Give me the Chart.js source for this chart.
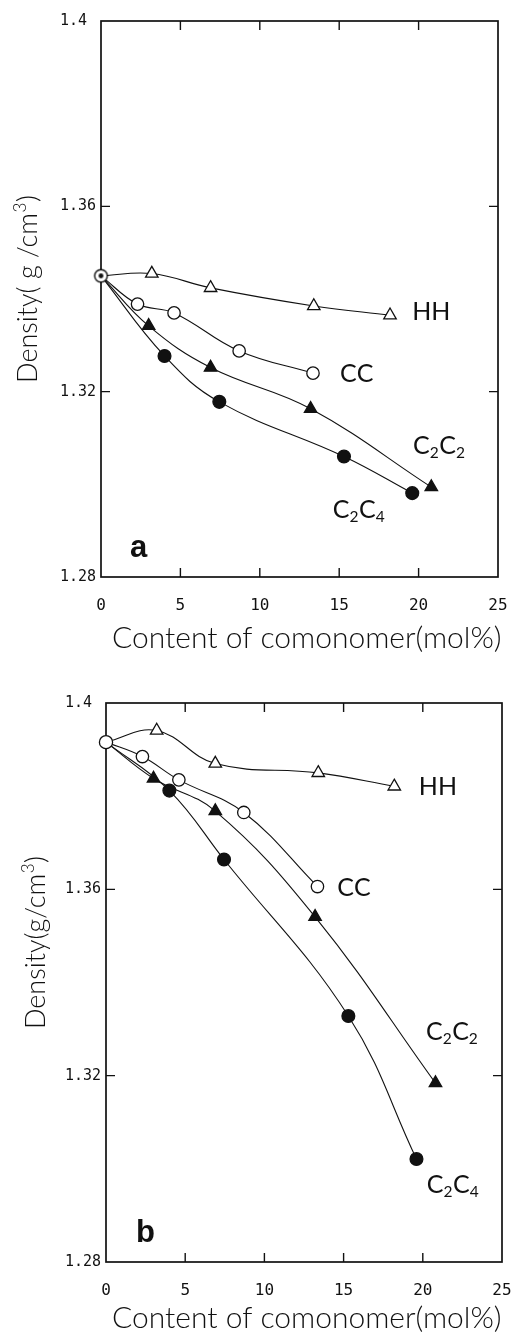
<!DOCTYPE html>
<html>
<head>
<meta charset="utf-8">
<script src="https://cdn.jsdelivr.net/npm/chart.js@4.4.1/dist/chart.umd.min.js"></script>
<style>
  html, body { margin: 0; padding: 0; background: #fff; width: 513px; height: 1334px; overflow: hidden; }
  canvas { position: absolute; left: 0; }
  #panelA { top: 0; }
  #panelB { top: 660px; }
</style>
</head>
<body>
<canvas id="panelA" width="513" height="660"></canvas>
<canvas id="panelB" width="513" height="674"></canvas>
<script>
// Comonomer content (mol%) of each copolymer series
const contentHH   = [0, 3.2, 6.9, 13.4, 18.2];
const contentCC   = [0, 2.3, 4.6, 8.7, 13.35];
const contentC2C2 = [0, 3.0, 6.9, 13.2, 20.8];
const contentC2C4 = [0, 4.0, 7.45, 15.3, 19.6];

// Density (g/cm3), panel a
const densityA_HH   = [1.3450, 1.3455, 1.3424, 1.3385, 1.3365];
const densityA_CC   = [1.3450, 1.3389, 1.3370, 1.3288, 1.3240];
const densityA_C2C2 = [1.3450, 1.3342, 1.3252, 1.3163, 1.2994];
const densityA_C2C4 = [1.3450, 1.3277, 1.3178, 1.3060, 1.2981];

// Density (g/cm3), panel b
const densityB_HH   = [1.3916, 1.3941, 1.3870, 1.3850, 1.3821];
const densityB_CC   = [1.3916, 1.3885, 1.3835, 1.3765, 1.3606];
const densityB_C2C2 = [1.3916, 1.3838, 1.3768, 1.3541, 1.3184];
const densityB_C2C4 = [1.3916, 1.3812, 1.3664, 1.3328, 1.3021];

// Axis ticks
const xTickValues = [0, 5, 10, 15, 20, 25];
const yTickValues = [1.28, 1.32, 1.36, 1.40];
const yTickLabels = ['1.28', '1.32', '1.36', '1.4'];

// Series names (digits are set as subscripts)
const seriesNames = ['HH', 'CC', 'C2C2', 'C2C4'];

const INK = '#111';
const TICK_FONT = "'DejaVu Sans Mono', 'Liberation Mono', monospace";
const TEXT_FONT = "Lato, 'Open Sans', sans-serif";

// "circle with a dot" marker used for the shared origin point of panel a
function dottedCircle() {
  const c = document.createElement('canvas');
  c.width = 17; c.height = 17;
  const g = c.getContext('2d');
  g.beginPath(); g.arc(8.5, 8.5, 6.3, 0, Math.PI * 2);
  g.fillStyle = '#fff'; g.fill();
  g.lineWidth = 1.4; g.strokeStyle = INK; g.stroke();
  g.beginPath(); g.arc(8.5, 8.5, 2.4, 0, Math.PI * 2);
  g.fillStyle = INK; g.fill();
  return c;
}

function points(xs, ys) {
  return xs.map((x, i) => ({ x: x, y: ys[i] }));
}

// Chemical-style label: digits drawn as subscripts
function drawChem(ctx, text, x, y, size) {
  let cx = x;
  for (const ch of text) {
    const sub = /[0-9]/.test(ch);
    const s = sub ? size * 0.62 : size;
    ctx.font = `${s}px ${TEXT_FONT}`;
    ctx.fillText(ch, cx, sub ? y + size * 0.17 : y);
    cx += ctx.measureText(ch).width + (sub ? 0.5 : 0);
  }
}

// Boxed frame with inward tick marks on all four sides
const framePlugin = {
  id: 'frame',
  beforeDatasetsDraw(chart) {
    const { ctx, chartArea: a, scales } = chart;
    ctx.save();
    ctx.strokeStyle = INK;
    ctx.lineWidth = 1.7;
    ctx.strokeRect(a.left, a.top, a.right - a.left, a.bottom - a.top);
    const len = 9;
    ctx.lineWidth = 1.4;
    ctx.beginPath();
    xTickValues.slice(1, -1).forEach(v => {
      const px = scales.x.getPixelForValue(v);
      ctx.moveTo(px, a.top); ctx.lineTo(px, a.top + len);
      ctx.moveTo(px, a.bottom); ctx.lineTo(px, a.bottom - len);
    });
    yTickValues.slice(1, -1).forEach(v => {
      const py = scales.y.getPixelForValue(v);
      ctx.moveTo(a.left, py); ctx.lineTo(a.left + len, py);
      ctx.moveTo(a.right, py); ctx.lineTo(a.right - len, py);
    });
    ctx.stroke();
    ctx.restore();
  }
};

// Series names, panel letter and axis titles
const captionPlugin = {
  id: 'captions',
  afterDraw(chart, args, opts) {
    const { ctx, chartArea: a, scales } = chart;
    ctx.save();
    ctx.fillStyle = INK;
    ctx.textBaseline = 'alphabetic';
    ctx.textAlign = 'left';
    seriesNames.forEach((name, i) => {
      const px = scales.x.getPixelForValue(opts.nameAt[i][0]);
      const py = scales.y.getPixelForValue(opts.nameAt[i][1]);
      drawChem(ctx, name, px, py, 25);
    });
    ctx.font = `bold 31px 'Liberation Sans', Arial, sans-serif`;
    ctx.fillText(opts.letter,
      scales.x.getPixelForValue(opts.letterAt[0]),
      scales.y.getPixelForValue(opts.letterAt[1]));

    // x-axis title
    ctx.font = `300 30px ${TEXT_FONT}`;
    ctx.fillText('Content of comonomer(mol%)', a.left + opts.xTitleDx, a.bottom + opts.xTitleDy);

    // y-axis title, rotated, with a raised "3"
    ctx.translate(opts.yTitleX, (a.top + a.bottom) / 2 + opts.yTitleDy);
    ctx.rotate(-Math.PI / 2);
    const parts = opts.yTitle;
    const big = `300 27px ${TEXT_FONT}`, small = `300 17px ${TEXT_FONT}`;
    ctx.font = big;
    const w0 = ctx.measureText(parts[0]).width, w2 = ctx.measureText(parts[2]).width;
    ctx.font = small;
    const w1 = ctx.measureText(parts[1]).width;
    let sx = -(w0 + w1 + w2 + 1) / 2;
    ctx.textAlign = 'left';
    ctx.font = big;
    ctx.fillText(parts[0], sx, 0);
    sx += w0;
    ctx.font = small;
    ctx.fillText(parts[1], sx + 0.5, -11);
    sx += w1 + 1;
    ctx.font = big;
    ctx.fillText(parts[2], sx, 0);
    ctx.restore();
  }
};

function buildPanel(cfg) {
  const origin = cfg.originStyle;
  const series = [
    { key: 'CC',   xs: contentCC,   ys: cfg.dens[1], style: 'circle',   fill: '#fff', r: 6.2, order: 0, first: origin },
    { key: 'C2C4', xs: contentC2C4, ys: cfg.dens[3], style: 'circle',   fill: INK,    r: 6.4, order: 1, first: null },
    { key: 'C2C2', xs: contentC2C2, ys: cfg.dens[2], style: 'triangle', fill: INK,    r: 7.2, order: 2, first: null },
    { key: 'HH',   xs: contentHH,   ys: cfg.dens[0], style: 'triangle', fill: '#fff', r: 7.2, order: 3, first: null }
  ];
  const datasets = series.map(s => ({
    label: s.key,
    data: points(s.xs, s.ys),
    showLine: true,
    tension: 0.4,
    borderColor: INK,
    borderWidth: 1.1,
    order: s.order,
    clip: false,
    pointStyle: ctx => (ctx.dataIndex === 0 && s.first) ? s.first : s.style,
    pointRadius: ctx => ctx.dataIndex === 0 ? (s.first ? (s.first === 'circle' ? 6.6 : 7) : 0) : s.r,
    pointBackgroundColor: s.fill,
    pointBorderColor: INK,
    pointBorderWidth: 1.3
  }));

  return new Chart(document.getElementById(cfg.canvas), {
    type: 'scatter',
    data: { datasets },
    options: {
      responsive: false,
      animation: false,
      events: [],
      layout: { padding: { left: 0, top: cfg.top, right: cfg.right, bottom: 0 } },
      plugins: {
        legend: { display: false },
        tooltip: { enabled: false },
        captions: cfg.captions
      },
      scales: {
        x: {
          type: 'linear', min: 0, max: 25,
          afterBuildTicks: sc => { sc.ticks = xTickValues.map(v => ({ value: v })); },
          afterFit: sc => { sc.height = cfg.xAxisHeight; sc.paddingLeft = 0; sc.paddingRight = 0; },
          grid: { display: false, drawTicks: false },
          border: { display: false },
          ticks: {
            color: INK, padding: cfg.xTickPad, maxRotation: 0,
            font: { family: TICK_FONT, size: 16 },
            callback: v => String(v)
          }
        },
        y: {
          type: 'linear', min: 1.28, max: 1.40,
          afterBuildTicks: sc => { sc.ticks = yTickValues.map(v => ({ value: v })); },
          afterFit: sc => { sc.width = cfg.yAxisWidth; sc.paddingTop = 0; sc.paddingBottom = 0; },
          grid: { display: false, drawTicks: false },
          border: { display: false },
          ticks: {
            color: INK, padding: 5,
            font: { family: TICK_FONT, size: 15 },
            callback: (v, i) => yTickLabels[i].padEnd(4, ' ')
          }
        }
      }
    },
    plugins: [framePlugin, captionPlugin]
  });
}

buildPanel({
  canvas: 'panelA',
  dens: [densityA_HH, densityA_CC, densityA_C2C2, densityA_C2C4],
  originStyle: dottedCircle(),
  top: 21, right: 15, yAxisWidth: 101, xAxisHeight: 83, xTickPad: 19,
  captions: {
    nameAt: [[19.6, 1.3355], [15.05, 1.3221], [19.65, 1.3065], [14.6, 1.2927]],
    letter: 'a', letterAt: [1.83, 1.2844],
    xTitleDx: 11, xTitleDy: 71,
    yTitle: ['Density( g /cm', '3', ')'], yTitleX: 37, yTitleDy: -10
  }
});

buildPanel({
  canvas: 'panelB',
  dens: [densityB_HH, densityB_CC, densityB_C2C2, densityB_C2C4],
  originStyle: 'circle',
  top: 43, right: 11, yAxisWidth: 106, xAxisHeight: 72, xTickPad: 19,
  captions: {
    nameAt: [[19.75, 1.3802], [14.6, 1.3586], [20.2, 1.3277], [20.25, 1.2948]],
    letter: 'b', letterAt: [1.9, 1.2843],
    xTitleDx: 6, xTitleDy: 66,
    yTitle: ['Density(g/cm', '3', ')'], yTitleX: 45, yTitleDy: -40
  }
});
</script>
</body>
</html>
